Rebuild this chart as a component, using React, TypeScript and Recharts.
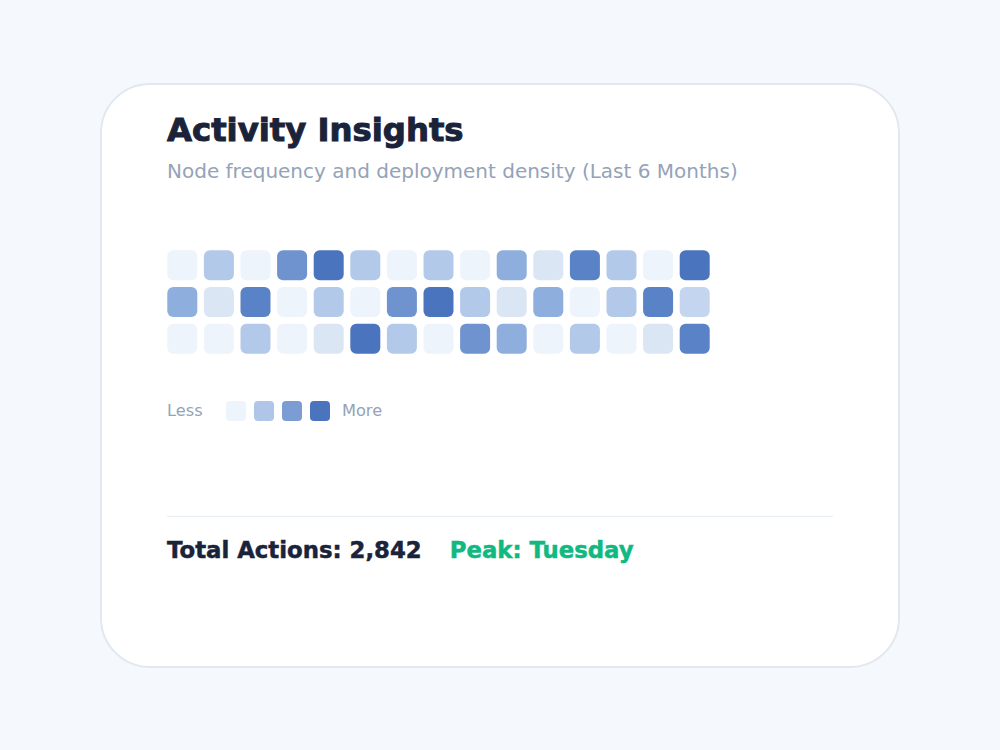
import React from 'react';
import { ScatterChart, Scatter, XAxis, YAxis } from 'recharts';

const weeks = ['W1', 'W2', 'W3', 'W4', 'W5', 'W6', 'W7', 'W8', 'W9', 'W10', 'W11', 'W12', 'W13', 'W14', 'W15'];
const days = ['Mon', 'Tue', 'Wed'];
const row1Levels = [0, 3, 0, 5, 7, 3, 0, 3, 0, 4, 1, 6, 3, 0, 7];
const row2Levels = [4, 1, 6, 0, 3, 0, 5, 7, 3, 1, 4, 0, 3, 6, 2];
const row3Levels = [0, 0, 3, 0, 1, 7, 3, 0, 5, 4, 0, 3, 0, 1, 6];
const levelColors = ['#eef4fb', '#dbe6f4', '#c4d6ef', '#b3c9e9', '#8eaedd', '#6f93cf', '#5a82c6', '#4a74be'];
const legendColors = ['#edf4fb', '#b0c6e8', '#7b9dd4', '#4a74be'];

const title = 'Activity Insights';
const subtitle = 'Node frequency and deployment density (Last 6 Months)';
const totalActions = 'Total Actions: 2,842';
const peakDay = 'Peak: Tuesday';

const rows = [row1Levels, row2Levels, row3Levels];
const cells = rows.flatMap((levels, r) =>
  levels.map((level, c) => ({ x: c, y: r, week: weeks[c], day: days[r], level }))
);

const Cell = (props: any) => {
  const { cx, cy, payload } = props;
  if (cx == null || cy == null) return null;
  const s = 30;
  return (
    <rect x={cx - s / 2} y={cy - s / 2} width={s} height={s} rx={6} ry={6} fill={levelColors[payload.level]} />
  );
};

export default function App() {
  const font = '"DejaVu Sans", Verdana, sans-serif';
  return (
    <div style={{ position: 'absolute', left: 0, top: 0, width: 1000, height: 750, background: '#f5f8fc', overflow: 'hidden', fontFamily: font }}>
      <div style={{ position: 'absolute', left: 100, top: 83, width: 796, height: 581, background: '#ffffff', border: '2px solid #e2e8f0', borderRadius: 50 }} />
      <div style={{ position: 'absolute', left: 167, top: 110, fontSize: 32.3, fontWeight: 700, color: '#1a2339', whiteSpace: 'nowrap', lineHeight: '40px', WebkitTextStroke: '1px #1a2339' }}>{title}</div>
      <div style={{ position: 'absolute', left: 167, top: 158, fontSize: 20, color: '#94a3b8', whiteSpace: 'nowrap', lineHeight: '26px' }}>{subtitle}</div>
      <div style={{ position: 'absolute', left: 163.7, top: 246.7 }}>
        <ScatterChart width={549} height={110} margin={{ top: 0, right: 0, bottom: 0, left: 0 }}>
          <XAxis type="number" dataKey="x" domain={[-0.5, 14.5]} hide />
          <YAxis type="number" dataKey="y" domain={[-0.5, 2.5]} reversed hide />
          <Scatter data={cells} shape={<Cell />} isAnimationActive={false} />
        </ScatterChart>
      </div>
      <div style={{ position: 'absolute', left: 167, top: 401, height: 20, lineHeight: '20px', fontSize: 16.2, color: '#94a3b8' }}>Less</div>
      {legendColors.map((c, i) => (
        <div key={i} style={{ position: 'absolute', left: 226 + i * 28, top: 401, width: 20, height: 20, borderRadius: 4, background: c }} />
      ))}
      <div style={{ position: 'absolute', left: 342, top: 401, height: 20, lineHeight: '20px', fontSize: 16.2, color: '#94a3b8' }}>More</div>
      <div style={{ position: 'absolute', left: 167, top: 516, width: 666, height: 1, background: '#e9eef5' }} />
      <div style={{ position: 'absolute', left: 167, top: 536, fontSize: 22.8, fontWeight: 700, color: '#1a2339', whiteSpace: 'nowrap', lineHeight: '28px', WebkitTextStroke: '0.5px #1a2339' }}>
        {totalActions}
        <span style={{ color: '#10b981', marginLeft: 28, WebkitTextStroke: '0.5px #10b981' }}>{peakDay}</span>
      </div>
    </div>
  );
}
